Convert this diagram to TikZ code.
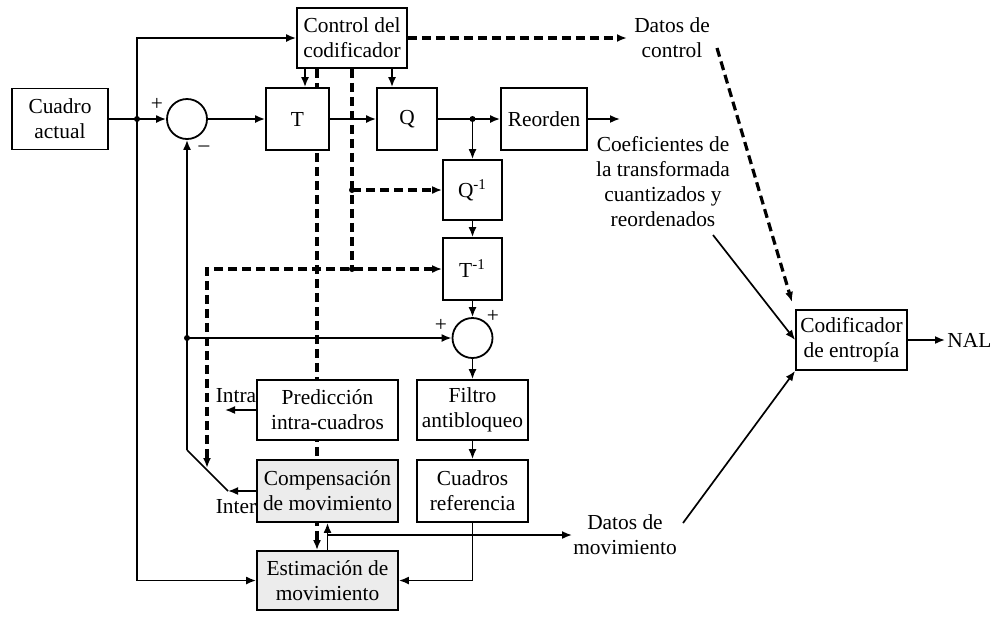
\documentclass[tikz,border=0pt]{standalone}
\usepackage{fontspec}
\setmainfont{Liberation Serif}
\usetikzlibrary{arrows.meta,backgrounds}

\begin{document}
\begin{tikzpicture}[x=0.5pt,y=-0.5pt,
  font=\fontsize{10.7}{12.5}\selectfont,
  >={Latex[length=5pt,width=4pt]},
  blk/.style={draw,line width=0.9pt,fill=white,align=center,inner sep=0pt},
  sumc/.style={draw,circle,line width=0.9pt,fill=white,minimum size=20pt,inner sep=0pt},
  lbl/.style={align=center,inner sep=1pt},
  conn/.style={line width=0.85pt,->},
  wire/.style={line width=0.85pt},
  ctrl/.style={line width=1.6pt,dash pattern=on 4.5pt off 2.5pt},
  dot/.style={fill,circle,inner sep=0pt,minimum size=3pt}
]
\useasboundingbox (0,0) rectangle (999,617);

% ---- blocks ----
\node[blk,minimum width=48pt,minimum height=30.5pt] (ca) at (60,119) {Cuadro\\actual};
\node[blk,minimum width=55pt,minimum height=30pt] (ctl) at (352,38) {Control del\\codificador};
\node[blk,minimum width=31.5pt,minimum height=31pt] (T) at (297.5,119) {T};
\node[blk,minimum width=30pt,minimum height=31pt] (Q) at (407,119) {Q};
\node[blk,minimum width=43pt,minimum height=31pt] (R) at (544,119) {Reorden};
\node[blk,minimum width=29.5pt,minimum height=30pt] (Qi) at (472.5,190) {Q\textsuperscript{-1}};
\node[blk,minimum width=29.5pt,minimum height=31pt] (Ti) at (472.5,269) {T\textsuperscript{-1}};
\node[sumc] (s1) at (187,119) {};
\node[sumc] (s2) at (472.5,338) {};
\node[blk,minimum width=70.5pt,minimum height=30pt] (pred) at (327.5,410) {Predicción\\intra-cuadros};
\node[blk,fill=gray!15,minimum width=70.5pt,minimum height=31pt] (comp) at (327.5,491) {Compensación\\de movimiento};
\node[blk,fill=gray!15,minimum width=70.5pt,minimum height=29.5pt] (est) at (327.5,580.5) {Estimación de\\movimiento};
\node[blk,minimum width=55.5pt,minimum height=30pt] (filt) at (472.5,410) {Filtro\\antibloqueo};
\node[blk,minimum width=55.5pt,minimum height=31pt] (cref) at (472.5,491) {Cuadros\\referencia};
\node[blk,minimum width=55.5pt,minimum height=30pt] (cod) at (851.5,340) {Codificador\\de entropía};

% ---- labels ----
\node[lbl] (dctl) at (672,38) {Datos de\\control};
\node[lbl] (coef) at (663,182) {Coeficientes de\\la transformada\\cuantizados y\\reordenados};
\node[lbl] (dmov) at (625,535) {Datos de\\movimiento};
\node[lbl,anchor=west] (nal) at (945,340) {NAL};
\node[lbl] (intra) at (236,396) {Intra};
\node[lbl] (inter) at (236,507) {Inter};
\node[lbl] (p1) at (157,104) {+};
\node[lbl] (m1) at (204,149) {--};
\node[lbl] (p2) at (441,325) {+};
\node[lbl] (p3) at (493,316) {+};

% ---- helper points ----
\coordinate (j1) at (137,119);
\coordinate (xa) at (305,0);
\coordinate (xb) at (317,0);
\coordinate (xc) at (352,0);
\coordinate (xd) at (392,0);
\coordinate (rout) at (620,119);
\coordinate (sw) at (207,468);
\coordinate (pv) at (187,450);
\coordinate (sc) at (228,491);
\coordinate (intraend) at (225,410);
\coordinate (ymv) at (0,535);
\coordinate (mvend) at (572,535);
\coordinate (dctlend) at (627,38);
\coordinate (a1) at (717,48);
\coordinate (a1e) at (792,302);
\coordinate (a2) at (713,235);
\coordinate (a3) at (683,523);

% ---- control line running behind the blocks ----
\begin{scope}[on background layer]
  \draw[ctrl,->] (ctl.south -| xb) -- (est.north -| xb);
\end{scope}

% ---- forward path ----
\draw[conn] (ca.east) -- (s1.west);
\draw[conn] (j1) |- (ctl.west);
\draw[conn] (j1) |- (est.west);
\draw[conn] (s1.east) -- (T.west);
\draw[conn] (T.east) -- (Q.west);
\draw[conn] (Q.east) -- (R.west);
\coordinate (j2) at (Qi.north |- Q.east);
\draw[conn] (j2) -- (Qi.north);
\draw[conn] (R.east) -- (rout);
\draw[conn] (Qi.south) -- (Ti.north);
\draw[conn] (Ti.south) -- (s2.north);
\draw[conn] (s2.south) -- (filt.north);
\draw[conn] (filt.south) -- (cref.north);
\draw[conn] (cref.south) |- (est.east);
\draw[conn] (ctl.south -| xa) -- (T.north -| xa);
\draw[conn] (ctl.south -| xd) -- (Q.north -| xd);

% ---- control signals ----
\draw[ctrl] (ctl.south -| xc) -- (xc |- Ti.west);
\draw[ctrl,->] (xc |- Qi.west) -- (Qi.west);
\draw[ctrl,<->] (Ti.west) -| (sw);
\draw[ctrl,->] (ctl.east) -- (dctlend);

% ---- prediction feedback and switch ----
\coordinate (j3) at (pv |- s2.west);
\draw[conn] (pv) -- (s1.south);
\draw[conn] (j3) -- (s2.west);
\draw[wire] (pv) -- (sc);
\draw[conn] (comp.west) -- (sc |- comp.west);
\draw[conn] (pred.west) -- (intraend);

% ---- motion data ----
\coordinate (j4) at (est.north |- ymv);
\draw[conn] (est.north) -- (comp.south);
\draw[conn] (j4) -- (mvend);

% ---- entropy coder inputs ----
\draw[ctrl,->] (a1) -- (a1e);
\draw[conn] (a2) -- (cod.west);
\draw[conn] (a3) -- (cod.south west);
\draw[conn] (cod.east) -- (nal.west);

% ---- junction dots ----
\node[dot] at (j1) {};
\node[dot] at (j2) {};
\node[dot] at (j3) {};
\node[dot] at (xb |- Ti.west) {};
\node[dot] at (xc |- Ti.west) {};
\node[dot] at (xc |- Qi.west) {};
\end{tikzpicture}
\end{document}
